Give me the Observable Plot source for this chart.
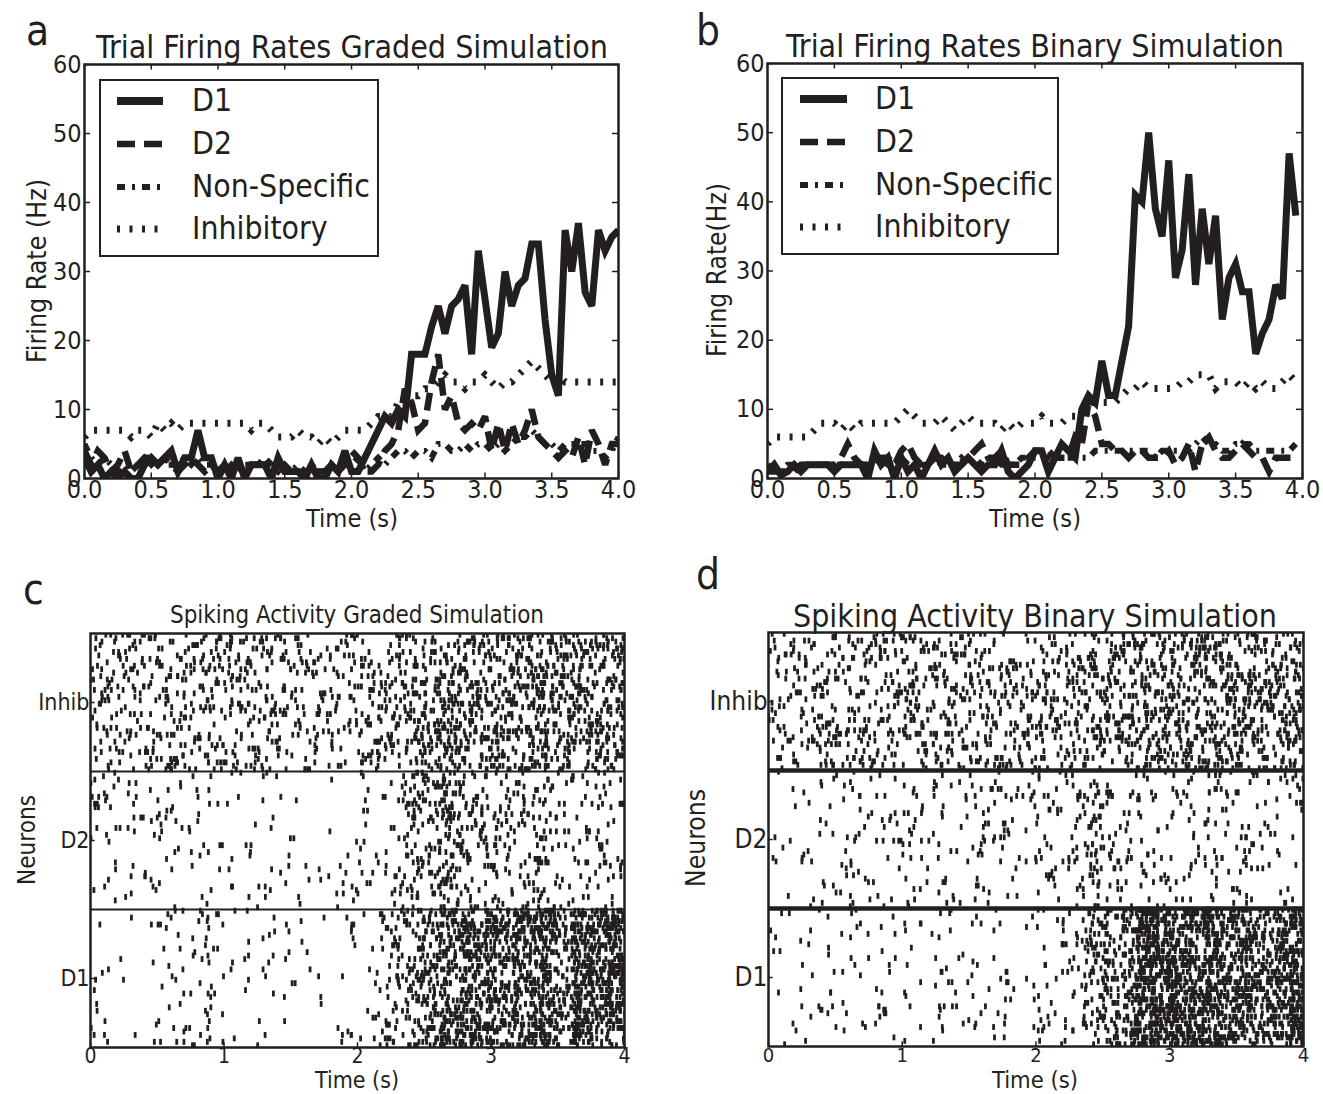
<!DOCTYPE html>
<html><head><meta charset="utf-8">
<script src="https://cdn.jsdelivr.net/npm/d3@7"></script>
<script src="https://cdn.jsdelivr.net/npm/@observablehq/plot@0.6"></script>
<style>
body{margin:0;background:#fff;}
#root{position:relative;width:1323px;height:1094px;overflow:hidden;font-family:"DejaVu Sans Condensed","DejaVu Sans",sans-serif;color:#231f20;}
.p{position:absolute;}
#overlay{position:absolute;left:0;top:0;}
</style></head><body><div id="root"></div>
<script>
// ---------- data ----------
const timeStep = 0.05; // s between rate samples
const gradedD1 = [3,1,2,0,1,0,1,0,0,2,3,2,3,4,1,3,3,7,3,3, 0,2,0,3,0,2,2,2,0,3,1,1,1,0,2,0,0,2,1,4, 1,1,3,5,7,9,8,10,9,18,18,18,22,25,21,25,26,28,18,33, 26,19,21,30,25,28,29,34,34,23,15,12,36,30,37,27,25,36,33,35, 36];
const gradedD2 = [4,2,4,3,1,2,4,1,2,3,3,2,3,2,1,2,3,2,1,2, 1,2,1,2,1,2,2,2,1,2,1,1,1,0,1,1,1,2,1,2, 4,3,1,1,2,4,5,7,13,11,7,8,14,18,10,12,8,7,8,7, 9,4,8,4,8,5,7,10,6,5,4,3,4,3,6,2,7,5,2,5, 5];
const gradedNS = [5,3,2,3,2,1,2,1,2,3,2,3,2,2,2,3,2,3,2,2, 2,1,2,1,2,2,2,3,2,1,2,1,2,1,2,1,1,2,2,2, 2,3,1,2,3,2,3,4,4,3,4,4,3,5,5,4,4,5,4,5, 5,4,5,4,5,6,6,7,6,5,5,4,5,5,5,5,4,4,3,4, 6];
const gradedInh = [6,7,7,7,7,7,7,6,7,7,6,8,7,8,7,8,8,8,8,8, 8,8,8,8,8,7,8,8,7,6,6,6,7,6,6,5,6,5,6,7, 7,7,7,8,9,9,9,11,12,12,12,13,13,14,15,14,14,13,14,14, 15,14,13,14,14,15,16,17,16,15,14,15,14,14,14,14,14,14,14,14, 14];
const binaryD1 = [1,2,0.5,1,2,1,2,2,2,2,1,2,2,2,2,0,4,2,3,0, 3,1,2,0,2,4,2,3,1,2,3,2,1,2,2,4,1,0,1,2, 4,4,1,3,5,4,3,10,12,11,17,12,12,17,22,41,40,50,39,35, 46,29,33,44,28,39,31,38,23,29,31,27,27,18,21,23,28,26,47,38];
const binaryD2 = [1,1,1,1,1,2,2,2,2,2,2,3,5,3,2,2,2,3,3,2, 4,5,3,2,2,3,3,2,2,2,3,4,5,3,3,4,2,2,2,3, 4,4,4,3,3,3,6,5,11,9,5,5,4,4,3,4,4,3,3,3, 4,2,3,5,1,5,6,4,3,3,4,5,4,3,3,1,3,3,3,3];
const binaryNS = [2,1,1,2,2,2,2,2,2,2,2,2,2,2,2,2,2,3,2,2, 3,2,3,2,2,3,2,2,2,3,2,3,2,2,3,2,2,2,3,3, 3,3,3,3,3,3,3,3,3,4,4,4,4,4,4,4,4,4,3,4, 4,4,4,4,5,6,5,5,4,4,5,5,5,4,4,4,4,4,4,5];
const binaryInh = [5,6,6,6,6,6,6,7,8,8,8,7,8,7,8,8,8,8,8,8, 9,10,9,8,8,8,9,8,7,8,9,8,8,8,8,7,8,7,8,8, 8,9,8,8,8,9,9,10,11,11,11,11,11,12,13,13,14,13,13,13, 13,13,14,14,15,15,15,13,14,14,14,13,14,13,14,13,13,14,15,14];

const seriesNames = ["D1","D2","Non-Specific","Inhibitory"];
const rateTicksX = [0,0.5,1,1.5,2,2.5,3,3.5,4];
const rateTicksY = [0,10,20,30,40,50,60];
const rasterTicksX = [0,1,2,3,4];
const populations = ["D1","D2","Inhib"];
const neuronsPerPop = 40;

// ---------- styles ----------
const INK = "#231f20";
const FONT = '"DejaVu Sans Condensed","DejaVu Sans",sans-serif';
const lineStyle = {
  "D1": {strokeWidth: 7, dash: null},
  "D2": {strokeWidth: 6.5, dash: "18,9"},
  "Non-Specific": {strokeWidth: 6, dash: "8,7,3,7"},
  "Inhibitory": {strokeWidth: 7, dash: "3,9.5"}
};

function toRows(values) { return values.map((v, i) => ({t: i * timeStep, v})); }

function ratePanel(series, cfg) {
  const marks = [];
  [...seriesNames].reverse().forEach(name => {
    const st = lineStyle[name];
    marks.push(Plot.line(toRows(series[name]), {x: "t", y: "v", stroke: INK, strokeWidth: st.strokeWidth,
      strokeDasharray: st.dash, strokeLinejoin: "miter", strokeLinecap: "butt", strokeMiterlimit: 3, clip: true}));
  });
  marks.push(Plot.ruleX(rateTicksX, {x: d => d, y1: 0, y2: 0.8, stroke: INK, strokeWidth: 1.5}));
  marks.push(Plot.ruleX(rateTicksX, {x: d => d, y1: 59.2, y2: 60, stroke: INK, strokeWidth: 1.5}));
  marks.push(Plot.ruleY(rateTicksY, {y: d => d, x1: 0, x2: 0.045, stroke: INK, strokeWidth: 1.5}));
  marks.push(Plot.ruleY(rateTicksY, {y: d => d, x1: 3.955, x2: 4, stroke: INK, strokeWidth: 1.5}));
  marks.push(Plot.axisX(rateTicksX, {tickSize: 0, tickPadding: 2, fontSize: 25, tickFormat: d => d.toFixed(1), label: null}));
  marks.push(Plot.axisY(rateTicksY, {tickSize: 0, tickPadding: 3, fontSize: 25, tickFormat: d => String(d), label: null}));
  marks.push(Plot.frame({stroke: INK, strokeWidth: 2.5}));
  return Plot.plot({
    width: cfg.w, height: cfg.h, marginLeft: cfg.ml, marginRight: cfg.mr, marginTop: cfg.mt, marginBottom: cfg.mb,
    x: {domain: [0, 4]}, y: {domain: [0, 60]},
    style: {background: "transparent", fontFamily: FONT, color: INK, overflow: "visible"},
    marks
  });
}

function hash(n) {
  n = Math.imul(n ^ 0x9e3779b9, 0x85ebca6b);
  n ^= n >>> 13; n = Math.imul(n, 0xc2b2ae35); n ^= n >>> 16;
  return (n >>> 0) / 4294967296;
}

// spike layout: the number of spikes in each time bin follows the firing rates read above
function spikesFrom(rates, seed) {
  const out = [];
  let k = seed * 100000;
  rates.forEach((r, p) => {
    let acc = 0.5;
    r.forEach((hz, i) => {
      const t0 = i * timeStep;
      if (t0 >= 4 - 1e-9) return;
      acc += hz * neuronsPerPop * timeStep;
      while (acc >= 1) {
        acc -= 1; k++;
        out.push({t: t0 + hash(2 * k) * timeStep, n: p * neuronsPerPop + Math.floor(hash(2 * k + 1) * neuronsPerPop)});
      }
    });
  });
  return out;
}

function rasterPanel(spikes, cfg) {
  const nTot = neuronsPerPop * populations.length;
  const yTicks = populations.map((_, i) => i * neuronsPerPop + neuronsPerPop / 2);
  return Plot.plot({
    width: cfg.w, height: cfg.h, marginLeft: cfg.ml, marginRight: cfg.mr, marginTop: cfg.mt, marginBottom: cfg.mb,
    x: {domain: [0, 4]}, y: {domain: [0, nTot]},
    style: {background: "transparent", fontFamily: FONT, color: INK, overflow: "visible"},
    marks: [
      Plot.ruleX(spikes, {x: "t", y1: d => d.n + 0.5 - 0.85, y2: d => d.n + 0.5 + 0.85, stroke: INK, strokeWidth: 2.8, clip: true}),
      Plot.ruleY([neuronsPerPop, 2 * neuronsPerPop], {stroke: INK, strokeWidth: cfg.sep}),
      Plot.ruleX(rasterTicksX, {x: d => d, y1: 0, y2: 1.4, stroke: INK, strokeWidth: 1.5}),
      Plot.ruleY(yTicks, {y: d => d, x1: 0, x2: 0.035, stroke: INK, strokeWidth: 1.5}),
      Plot.axisX(rasterTicksX, {tickSize: 0, tickPadding: 1, fontSize: cfg.fsx, tickFormat: d => String(d), label: null}),
      Plot.axisY(yTicks, {tickSize: 0, tickPadding: 1, fontSize: cfg.fsy, label: null, tickFormat: (d, i) => populations[i]}),
      Plot.frame({stroke: INK, strokeWidth: 2.5})
    ]
  });
}

const root = document.getElementById("root");
function place(el, left, top) { const d = document.createElement("div"); d.className = "p"; d.style.left = left + "px"; d.style.top = top + "px"; d.appendChild(el); root.appendChild(d); }

place(ratePanel({"D1": gradedD1, "D2": gradedD2, "Non-Specific": gradedNS, "Inhibitory": gradedInh},
  {w: 660, h: 540, ml: 84, mr: 42, mt: 64, mb: 62}), 0, 0);
place(ratePanel({"D1": binaryD1, "D2": binaryD2, "Non-Specific": binaryNS, "Inhibitory": binaryInh},
  {w: 643, h: 540, ml: 87, mr: 21, mt: 63, mb: 62}), 680, 0);
place(rasterPanel(spikesFrom([gradedD1, gradedD2, gradedInh], 1),
  {w: 660, h: 524, ml: 90, mr: 36, mt: 63, mb: 47, sep: 2, fsx: 21, fsy: 23}), 0, 570);
place(rasterPanel(spikesFrom([binaryD1, binaryD2, binaryInh], 2),
  {w: 643, h: 524, ml: 88, mr: 20, mt: 62, mb: 48, sep: 4.5, fsx: 20, fsy: 26}), 680, 570);

// ---------- overlay text: letters, titles, axis labels, legends ----------
const ov = d3.select(root).append("svg").attr("id", "overlay").attr("width", 1323).attr("height", 1094)
  .attr("font-family", FONT).attr("fill", INK).style("pointer-events", "none");
// font size chosen so the text's natural width matches the width measured on the reference
function fit(t, size, target) {
  t.attr("font-size", size);
  const len = t.node().getComputedTextLength();
  if (len > 0 && target) t.attr("font-size", (size * target / len).toFixed(2));
  return t;
}
function txt(s, x, y, size, target, anchor) {
  const t = ov.append("text").attr("x", x).attr("y", y).text(s);
  if (anchor) t.attr("text-anchor", anchor);
  return fit(t, size, target);
}
function vtxt(s, cx, cy, size, target) {
  const t = ov.append("text").attr("transform", `translate(${cx},${cy}) rotate(-90)`).attr("text-anchor", "middle")
    .attr("dominant-baseline", "central").text(s);
  return fit(t, size, target);
}
txt("a", 26, 45, 42); txt("b", 696, 45, 42); txt("c", 23, 604, 42); txt("d", 696, 589, 42);
txt("Trial Firing Rates Graded Simulation", 352, 58, 27, 512, "middle");
txt("Trial Firing Rates Binary Simulation", 1035, 57, 27, 498, "middle");
txt("Spiking Activity Graded Simulation", 357, 623, 20, 374, "middle");
txt("Spiking Activity Binary Simulation", 1035, 627, 28, 484, "middle");
txt("Time (s)", 352, 527, 22, 92, "middle");
txt("Time (s)", 1035, 527, 22, 92, "middle");
txt("Time (s)", 357, 1088, 21, 84, "middle");
txt("Time (s)", 1035, 1088, 23, 86, "middle");
vtxt("Firing Rate (Hz)", 36, 271, 22, 184);
vtxt("Firing Rate(Hz)", 717, 270, 22, 174);
vtxt("Neurons", 27, 840, 21, 90);
vtxt("Neurons", 696, 838, 23, 98);

function legend(x, y, w, h, rowY, sx0, sx1, tx) {
  ov.append("rect").attr("x", x).attr("y", y).attr("width", w).attr("height", h)
    .attr("fill", "#fff").attr("stroke", INK).attr("stroke-width", 2);
  // common legend font size: "Non-Specific" spans 178 px on the reference
  const probe = ov.append("text").text("Non-Specific");
  fit(probe, 25, 178);
  const fs = probe.attr("font-size");
  probe.remove();
  seriesNames.forEach((name, i) => {
    const st = lineStyle[name];
    ov.append("line").attr("x1", sx0).attr("x2", sx1).attr("y1", rowY[i]).attr("y2", rowY[i])
      .attr("stroke", INK).attr("stroke-width", i === 0 ? 8 : st.strokeWidth).attr("stroke-dasharray", st.dash);
    ov.append("text").attr("x", tx).attr("y", rowY[i] + 10).attr("font-size", fs).text(name);
  });
}
legend(100, 80, 278, 176, [101, 144, 187, 229], 117, 163, 192);
legend(782, 78, 276, 176, [99, 142, 185, 227], 800, 847, 875);
</script></body></html>
